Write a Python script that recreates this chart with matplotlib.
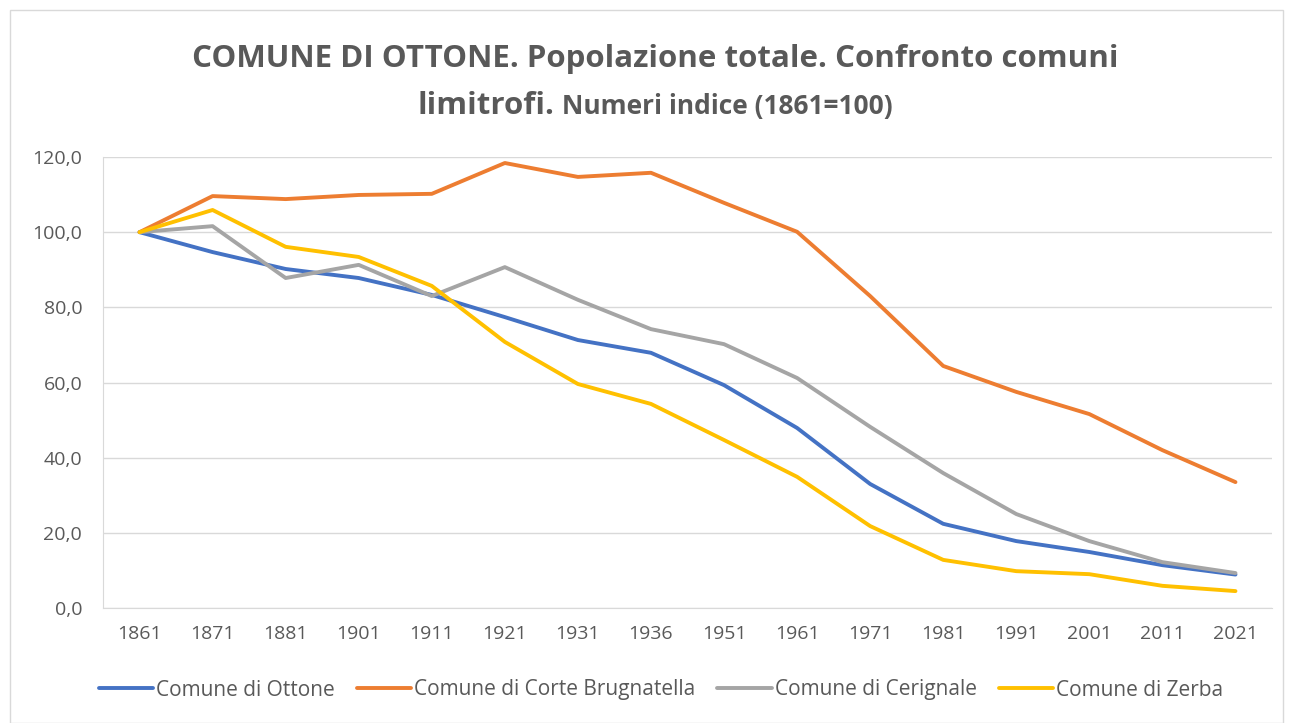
import matplotlib.pyplot as plt
from matplotlib.patches import Rectangle
from matplotlib.ticker import FuncFormatter

# ── Data ──────────────────────────────────────────────────────────────────────
YEARS = ["1861", "1871", "1881", "1901", "1911", "1921", "1931", "1936",
         "1951", "1961", "1971", "1981", "1991", "2001", "2011", "2021"]

OTTONE = [100.0, 94.7, 90.2, 87.8, 83.3, 77.4, 71.3, 67.9,
          59.3, 47.9, 33.0, 22.4, 17.8, 14.9, 11.4, 8.9]
CORTE_BRUGNATELLA = [100.0, 109.6, 108.8, 109.9, 110.2, 118.4, 114.7, 115.8,
                     107.8, 100.1, 83.0, 64.4, 57.5, 51.6, 42.0, 33.5]
CERIGNALE = [100.0, 101.6, 87.8, 91.3, 83.0, 90.7, 82.0, 74.2,
             70.2, 61.2, 48.2, 35.9, 25.0, 17.8, 12.2, 9.3]
ZERBA = [100.0, 105.9, 96.1, 93.4, 85.7, 70.8, 59.6, 54.3,
         44.7, 34.9, 21.8, 12.8, 9.8, 9.0, 5.9, 4.5]

SERIES = [
    ("Comune di Ottone", OTTONE, "#4472C4"),
    ("Comune di Corte Brugnatella", CORTE_BRUGNATELLA, "#ED7D31"),
    ("Comune di Cerignale", CERIGNALE, "#A5A5A5"),
    ("Comune di Zerba", ZERBA, "#FFC000"),
]

TEXT_COLOR = "#595959"
plt.rcParams["font.family"] = ["Open Sans", "DejaVu Sans"]

# ── Figure ────────────────────────────────────────────────────────────────────
fig = plt.figure(figsize=(12.9, 7.23), dpi=100)
fig.patch.set_facecolor("white")
fig.add_artist(Rectangle((10 / 1290, 0.0), 1273 / 1290, 1 - 10 / 723,
                         transform=fig.transFigure, fill=False,
                         edgecolor="#D9D9D9", linewidth=1.0))

ax = fig.add_axes([103 / 1290, 1 - 608 / 723, 1169 / 1290, 451 / 723])

x = list(range(len(YEARS)))
for label, values, color in SERIES:
    ax.plot(x, values, color=color, linewidth=2.8, label=label,
            solid_capstyle="round", solid_joinstyle="round", zorder=3)

ax.set_xlim(-0.5, len(YEARS) - 0.5)
ax.set_ylim(0, 120)
ax.set_yticks(range(0, 121, 20))
ax.yaxis.set_major_formatter(
    FuncFormatter(lambda v, _: f"{v:.1f}".replace(".", ",")))
ax.set_xticks(x)
ax.set_xticklabels(YEARS)

ax.grid(axis="y", color="#D9D9D9", linewidth=1.0, zorder=0)
ax.tick_params(axis="both", length=0, labelsize=14, colors=TEXT_COLOR)
ax.tick_params(axis="x", pad=12)
ax.tick_params(axis="y", pad=15)

for side in ["top", "right"]:
    ax.spines[side].set_visible(False)
ax.spines["left"].set_color("#D9D9D9")
ax.spines["bottom"].set_color("#D9D9D9")

# ── Title (two sizes on the second line) ─────────────────────────────────────
cx = 655 / 1290
fig.text(cx, 1 - 59 / 723, "COMUNE DI OTTONE. Popolazione totale. Confronto comuni",
         ha="center", va="center", fontsize=22.5, fontweight="bold",
         color=TEXT_COLOR)

renderer = fig.canvas.get_renderer()
t1 = fig.text(0, 1 - 114 / 723, "limitrofi.", ha="left", va="baseline",
              fontsize=22.5, fontweight="bold", color=TEXT_COLOR)
t2 = fig.text(0, 1 - 114 / 723, " Numeri indice (1861=100)", ha="left",
              va="baseline", fontsize=19, fontweight="bold",
              color=TEXT_COLOR)
w1 = t1.get_window_extent(renderer).width / fig.bbox.width
w2 = t2.get_window_extent(renderer).width / fig.bbox.width
x0 = cx - (w1 + w2) / 2
t1.set_x(x0)
t2.set_x(x0 + w1)

# ── Legend ───────────────────────────────────────────────────────────────────
fig.legend(loc="center", bbox_to_anchor=(661 / 1290, 1 - 690 / 723), ncol=4,
           frameon=False, fontsize=15, labelcolor=TEXT_COLOR,
           handlelength=2.6, handletextpad=0.15, columnspacing=1.05)

fig.savefig("out.png", dpi=100, facecolor="white")
